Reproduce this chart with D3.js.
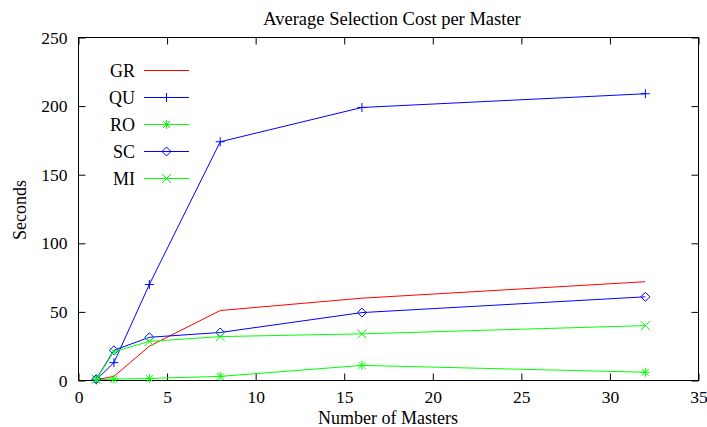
<!DOCTYPE html>
<html><head><meta charset="utf-8">
<script src="https://cdn.jsdelivr.net/npm/d3@7"></script>
<style>body{margin:0;background:#fff}svg{display:block}</style>
</head><body><svg id="c" width="707" height="427"></svg>
<script>
const masters = [1, 2, 4, 8, 16, 32];
const GR = [0.5, 3, 25, 51, 60, 72];
const QU = [0.5, 13, 70, 174, 199, 209];
const RO = [0.5, 1, 1.5, 3, 11, 6];
const SC = [1, 22, 31.5, 35, 49.5, 61];
const MI = [1, 21, 28.5, 32, 34, 40];
const seriesNames = ["GR", "QU", "RO", "SC", "MI"];
const xTicks = [0, 5, 10, 15, 20, 25, 30, 35];
const yTicks = [0, 50, 100, 150, 200, 250];

const FONT = "Liberation Serif, Times New Roman, Times, serif";

const series = [
  {name: "GR", vals: GR, color: "#ff0000", mark: null},
  {name: "QU", vals: QU, color: "#0000ff", mark: "plus"},
  {name: "RO", vals: RO, color: "#00ff00", mark: "star"},
  {name: "SC", vals: SC, color: "#0000ff", mark: "diamond"},
  {name: "MI", vals: MI, color: "#00ff00", mark: "cross"}
];

const svg = d3.select("#c").attr("font-family", FONT);
const L = 78.5, R = 698.5, T = 37.5, B = 380.5;
const x = d3.scaleLinear().domain([0, 35]).range([L, R]);
const y = d3.scaleLinear().domain([0, 250]).range([B, T]);

svg.append("rect").attr("x", L).attr("y", T).attr("width", R - L).attr("height", B - T)
  .attr("fill", "none").attr("stroke", "#000").attr("stroke-width", 1);

const tl = 7;
const TF = 17.5;
const axB = svg.append("g").attr("transform", `translate(0,${B})`)
  .call(d3.axisBottom(x).tickValues(xTicks).tickSize(-tl).tickPadding(10));
const axT = svg.append("g").attr("transform", `translate(0,${T})`)
  .call(d3.axisTop(x).tickValues(xTicks).tickSize(-tl).tickFormat(""));
const axL = svg.append("g").attr("transform", `translate(${L},0)`)
  .call(d3.axisLeft(y).tickValues(yTicks).tickSize(-tl).tickPadding(11));
const axR = svg.append("g").attr("transform", `translate(${R},0)`)
  .call(d3.axisRight(y).tickValues(yTicks).tickSize(-tl).tickFormat(""));
[axB, axT, axL, axR].forEach(g => {
  g.attr("font-family", FONT).attr("font-size", TF);
  g.select(".domain").remove();
  g.selectAll("line").attr("stroke", "#000");
  g.selectAll("text").attr("fill", "#000").attr("font-family", FONT).attr("font-size", TF);
});

function marker(g, type, cx, cy, color) {
  const s = 4.5;
  let d = "";
  if (type === "plus") d = `M${cx - s},${cy}H${cx + s}M${cx},${cy - s}V${cy + s}`;
  else if (type === "cross") d = `M${cx - s},${cy - s}L${cx + s},${cy + s}M${cx - s},${cy + s}L${cx + s},${cy - s}`;
  else if (type === "star") d = `M${cx - s},${cy}H${cx + s}M${cx},${cy - s}V${cy + s}M${cx - s + 1},${cy - s + 1}L${cx + s - 1},${cy + s - 1}M${cx - s + 1},${cy + s - 1}L${cx + s - 1},${cy - s + 1}`;
  else if (type === "diamond") d = `M${cx},${cy - s}L${cx + s},${cy}L${cx},${cy + s}L${cx - s},${cy}Z`;
  g.append("path").attr("d", d).attr("fill", "none").attr("stroke", color).attr("stroke-width", 1);
}

const line = d3.line().x(d => x(d[0])).y(d => y(d[1]));
const plot = svg.append("g");
series.forEach(s => {
  const pts = masters.map((m, i) => [m, s.vals[i]]);
  plot.append("path").attr("d", line(pts)).attr("fill", "none").attr("stroke", s.color).attr("stroke-width", 1);
  if (s.mark) pts.forEach(p => marker(plot, s.mark, x(p[0]), y(p[1]), s.color));
});

const leg = svg.append("g");
series.forEach((s, i) => {
  const ly = 70.5 + i * 27;
  leg.append("text").attr("x", 135).attr("y", ly + 6.5).attr("text-anchor", "end")
    .attr("font-size", 18).text(s.name);
  leg.append("line").attr("x1", 144).attr("x2", 189).attr("y1", ly).attr("y2", ly)
    .attr("stroke", s.color).attr("stroke-width", 1);
  if (s.mark) marker(leg, s.mark, 166.5, ly, s.color);
});

svg.append("text").attr("x", 392).attr("y", 25).attr("text-anchor", "middle")
  .attr("font-size", 18.5).text("Average Selection Cost per Master");
svg.append("text").attr("x", 388).attr("y", 424).attr("text-anchor", "middle")
  .attr("font-size", 18).text("Number of Masters");
svg.append("text").attr("transform", "translate(26,210) rotate(-90)").attr("text-anchor", "middle")
  .attr("font-size", 18).text("Seconds");
</script></body></html>
